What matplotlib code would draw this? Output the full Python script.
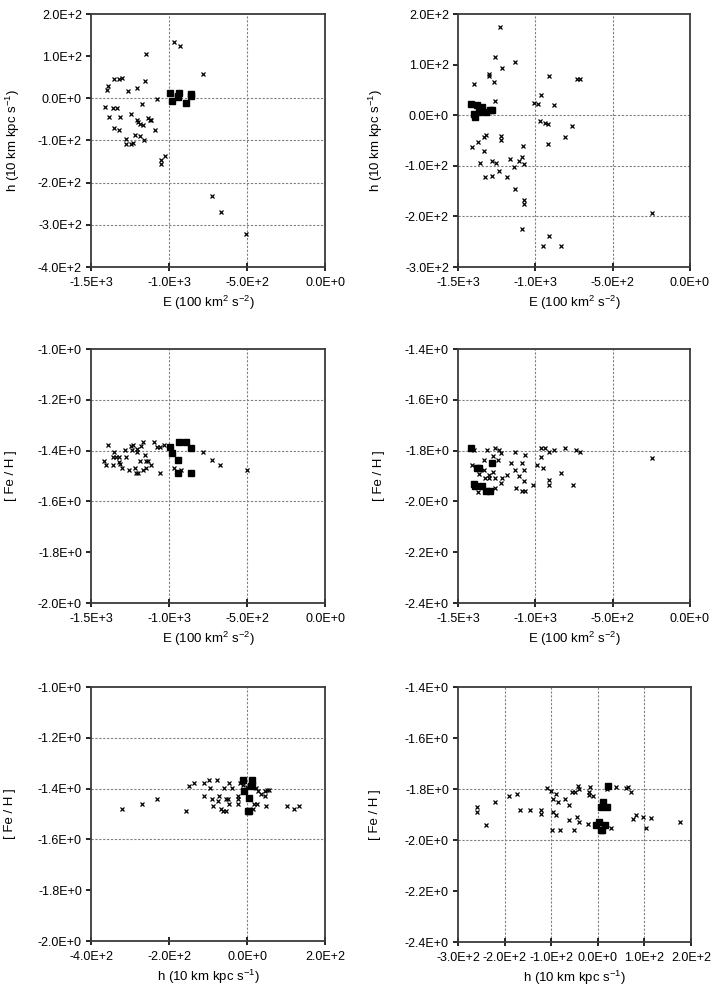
"""Six-panel E / h / [Fe/H] scatter figure for two halo star samples.

Crosses are the field stars, filled squares the clumped group members.
Left column: sample 1, right column: sample 2.
"""

import matplotlib

matplotlib.use("Agg")
import matplotlib.pyplot as plt
import numpy as np
from matplotlib.ticker import FuncFormatter, MultipleLocator

# ---- sample 1: group members (E, h, [Fe/H]) ----
g1_E = [-995, -980, -937, -894, -860, -944, -944, -862]
g1_h = [13, -7, 13, -11, 10, 5, 2, 6]
g1_feh = [-1.387, -1.408, -1.367, -1.367, -1.388, -1.438, -1.488, -1.488]

# ---- sample 2: group members ----
g2_E = [-1416, -1375, -1364, -1278, -1399, -1390, -1347, -1321, -1296]
g2_h = [22, 20, 6, 11, 2, -4, 16, 6, 10]
g2_feh = [-1.79, -1.87, -1.87, -1.85, -1.93, -1.94, -1.94, -1.96, -1.96]

# ---- sample 1 field stars, E vs h ----
f1_Eh_E = [-971, -928, -1148, -783, -1355, -1319, -1302, -1393, -1398, -1261,
           -1203, -1154, -1077, -1176, -1408, -1361, -1334, -1387, -1312, -1244,
           -1355, -1319, -1205, -1199, -1188, -1169, -1137, -1122, -1114, -1090,
           -1216, -1188, -1163, -1278, -1278, -1231, -1242, -1054, -1054, -1028,
           -725, -668, -506]
f1_Eh_h = [134, 123, 106, 58, 47, 47, 49, 29, 19, 17,
           25, 41, -2, -14, -21, -22, -23, -44, -45, -36,
           -70, -74, -52, -56, -62, -63, -47, -51, -52, -76,
           -86, -89, -98, -96, -109, -106, -109, -147, -155, -136,
           -232, -269, -321]

# ---- sample 1 field stars, E vs [Fe/H] ----
f1_Ef_E = [-1393, -1419, -1401, -1361, -1354, -1359, -1339, -1320, -1318, -1311,
           -1301, -1279, -1277, -1258, -1243, -1230, -1239, -1205, -1205, -1217,
           -1209, -1196, -1187, -1179, -1166, -1157, -1145, -1132, -1149, -1168,
           -1115, -1093, -1076, -1055, -1029, -1055, -969, -926, -783, -727,
           -670, -503]
f1_Ef_feh = [-1.378, -1.440, -1.458, -1.458, -1.407, -1.425, -1.425, -1.425, -1.446, -1.451,
             -1.469, -1.396, -1.425, -1.478, -1.381, -1.379, -1.396, -1.394, -1.407, -1.469,
             -1.488, -1.488, -1.440, -1.381, -1.367, -1.419, -1.440, -1.440, -1.469, -1.478,
             -1.458, -1.367, -1.386, -1.386, -1.378, -1.488, -1.469, -1.478, -1.407, -1.438,
             -1.458, -1.478]

# ---- sample 1 field stars, h vs [Fe/H] ----
f1_hf_h = [-320, -270, -231, -156, -148, -135, -110, -97, -96, -111,
           -89, -87, -76, -73, -75, -58, -55, -50, -45, -39,
           -47, -67, -62, -53, -24, -23, -23, -17, -9, 0,
           24, 27, 26, 17, 15, 37, 46, 45, 51, 57,
           48, 103, 120, 133]
f1_hf_feh = [-1.481, -1.460, -1.440, -1.490, -1.389, -1.378, -1.378, -1.368, -1.398, -1.428,
             -1.442, -1.470, -1.368, -1.428, -1.448, -1.398, -1.442, -1.442, -1.378, -1.398,
             -1.460, -1.481, -1.490, -1.490, -1.428, -1.442, -1.460, -1.378, -1.384, -1.392,
             -1.398, -1.411, -1.460, -1.460, -1.481, -1.420, -1.431, -1.411, -1.407, -1.407,
             -1.468, -1.468, -1.480, -1.468]

# ---- sample 2 field stars, E vs h ----
f2_Eh_E = [-1227, -1261, -1130, -1218, -1300, -1300, -1265, -1395, -913, -732,
           -710, -964, -1261, -1009, -984, -882, -968, -940, -915, -762,
           -809, -915, -1412, -1371, -1330, -1317, -1225, -1225, -1330, -1080,
           -1358, -1278, -1252, -1164, -1087, -1104, -1072, -1136, -1326, -1278,
           -1237, -1184, -1130, -1076, -1072, -1089, -913, -953, -833, -245]
f2_Eh_h = [175, 115, 105, 94, 82, 78, 65, 61, 78, 71,
           71, 40, 28, 24, 22, 20, -11, -15, -18, -22,
           -44, -57, -62, -52, -44, -40, -42, -49, -71, -61,
           -95, -91, -95, -86, -82, -90, -97, -102, -123, -121,
           -111, -123, -146, -168, -175, -224, -239, -259, -259, -193]

# ---- sample 2 field stars, E vs [Fe/H] ----
f2_Ef_E = [-1395, -1410, -1362, -1369, -1330, -1330, -1326, -1313, -1300, -1300,
           -1276, -1276, -1261, -1259, -1259, -1235, -1240, -1222, -1222, -1216,
           -1184, -1160, -1132, -1130, -1128, -1104, -1087, -1070, -1072, -1076,
           -1089, -1070, -1012, -986, -951, -966, -966, -940, -913, -882,
           -910, -910, -831, -807, -758, -736, -710, -245]
f2_Ef_feh = [-1.799, -1.858, -1.891, -1.962, -1.838, -1.878, -1.907, -1.799, -1.895, -1.907,
             -1.886, -1.823, -1.788, -1.907, -1.947, -1.799, -1.838, -1.809, -1.928, -1.908,
             -1.897, -1.849, -1.807, -1.878, -1.947, -1.899, -1.849, -1.819, -1.878, -1.918,
             -1.958, -1.958, -1.937, -1.858, -1.867, -1.826, -1.788, -1.788, -1.807, -1.799,
             -1.917, -1.937, -1.888, -1.788, -1.937, -1.799, -1.807, -1.829]

# ---- sample 2 field stars, h vs [Fe/H] ----
f2_hf_h = [-259, -259, -239, -221, -191, -174, -167, -146, -122, -122,
           -110, -101, -97, -98, -96, -90, -89, -85, -81, -70,
           -62, -61, -56, -49, -51, -43, -40, -44, -41, -19,
           -16, -19, -11, -21, 19, 29, 40, 60, 65, 71,
           76, 81, 96, 115, 104, 176]
f2_hf_feh = [-1.869, -1.890, -1.940, -1.851, -1.827, -1.819, -1.882, -1.882, -1.882, -1.899,
             -1.798, -1.808, -1.840, -1.960, -1.890, -1.900, -1.819, -1.851, -1.960, -1.840,
             -1.862, -1.921, -1.811, -1.811, -1.960, -1.788, -1.801, -1.908, -1.931, -1.824,
             -1.791, -1.811, -1.827, -1.939, -1.801, -1.951, -1.791, -1.798, -1.791, -1.810,
             -1.918, -1.903, -1.909, -1.912, -1.951, -1.931]

LBL_E = r"E (100 km$^{2}$ s$^{-2}$)"
LBL_H = r"h (10 km kpc s$^{-1}$)"
LBL_FEH = "[ Fe / H ]"

W, H = 720, 997
FS = 9


def sci(v, _pos):
    if abs(v) < 1e-9:
        return "0.0E+0"
    e = int(np.floor(np.log10(abs(v)) + 1e-9))
    return f"{v / 10 ** e:.1f}E{e:+d}"


def make_axes(fig, left, right, top, bottom):
    return fig.add_axes([left / W, 1 - bottom / H, (right - left) / W, (bottom - top) / H])


def panel(ax, fx, fy, gx, gy, xlim, xstep, ylim, ystep, hgrid, vgrid,
          xlabel, ylabel, ylab_x):
    for v in hgrid:
        ax.axhline(v, color="#808080", lw=0.8, ls=(0, (2, 1.5)), zorder=1)
    for v in vgrid:
        ax.axvline(v, color="#808080", lw=0.8, ls=(0, (2, 1.5)), zorder=1)
    ax.plot(fx, fy, "x", color="black", ms=3.4, mew=0.9, zorder=3)
    ax.plot(gx, gy, "s", color="black", ms=4.8, zorder=4)
    ax.set_xlim(*xlim)
    ax.set_ylim(*ylim)
    ax.xaxis.set_major_locator(MultipleLocator(xstep))
    ax.yaxis.set_major_locator(MultipleLocator(ystep))
    ax.xaxis.set_major_formatter(FuncFormatter(sci))
    ax.yaxis.set_major_formatter(FuncFormatter(sci))
    ax.tick_params(axis="x", direction="inout", length=6, width=1.2, pad=4,
                   labelsize=FS)
    ax.tick_params(axis="y", direction="out", length=3.5, width=1.2, pad=3,
                   labelsize=FS)
    for s in ax.spines.values():
        s.set_color("#3a3a3a")
        s.set_linewidth(1.3)
    ax.set_xlabel(xlabel, fontsize=FS + 0.5, labelpad=4)
    ax.set_ylabel(ylabel, fontsize=FS + 0.5)
    ax.yaxis.set_label_coords(ylab_x, 0.5)


def main():
    plt.rcParams["font.family"] = ["Liberation Sans", "DejaVu Sans"]
    plt.rcParams["mathtext.fontset"] = "custom"
    plt.rcParams["mathtext.rm"] = "Liberation Sans"
    plt.rcParams["mathtext.it"] = "Liberation Sans"

    fig = plt.figure(figsize=(W / 100, H / 100), dpi=100)

    ax1 = make_axes(fig, 91, 325, 14, 267)
    panel(ax1, f1_Eh_E, f1_Eh_h, g1_E, g1_h, (-1500, 0), 500, (-400, 200), 100,
          [0, -100, -200, -300], [-1000, -500], LBL_E, LBL_H, -0.295)

    ax2 = make_axes(fig, 458, 690, 14, 267)
    panel(ax2, f2_Eh_E, f2_Eh_h, g2_E, g2_h, (-1500, 0), 500, (-300, 200), 100,
          [0, -100, -200], [-1000, -500], LBL_E, LBL_H, -0.315)

    ax3 = make_axes(fig, 91, 325, 349, 603)
    panel(ax3, f1_Ef_E, f1_Ef_feh, g1_E, g1_feh, (-1500, 0), 500, (-2.0, -1.0), 0.2,
          [-1.2, -1.4, -1.6], [-1000, -500], LBL_E, LBL_FEH, -0.316)

    ax4 = make_axes(fig, 458, 690, 349, 603)
    panel(ax4, f2_Ef_E, f2_Ef_feh, g2_E, g2_feh, (-1500, 0), 500, (-2.4, -1.4), 0.2,
          [-1.6, -1.8], [-1000, -500], LBL_E, LBL_FEH, -0.315)

    ax5 = make_axes(fig, 91, 325, 687, 941)
    panel(ax5, f1_hf_h, f1_hf_feh, g1_h, g1_feh, (-400, 200), 200, (-2.0, -1.0), 0.2,
          [-1.2, -1.4, -1.6], [0], LBL_H, LBL_FEH, -0.32)

    ax6 = make_axes(fig, 458, 691, 687, 942)
    panel(ax6, f2_hf_h, f2_hf_feh, g2_h, g2_feh, (-300, 200), 100, (-2.4, -1.4), 0.2,
          [-1.8, -2.0], [-200, -100, 0, 100], LBL_H, LBL_FEH, -0.33)

    fig.savefig("out.png", dpi=100, facecolor="white")
    plt.close(fig)


if __name__ == "__main__":
    main()
